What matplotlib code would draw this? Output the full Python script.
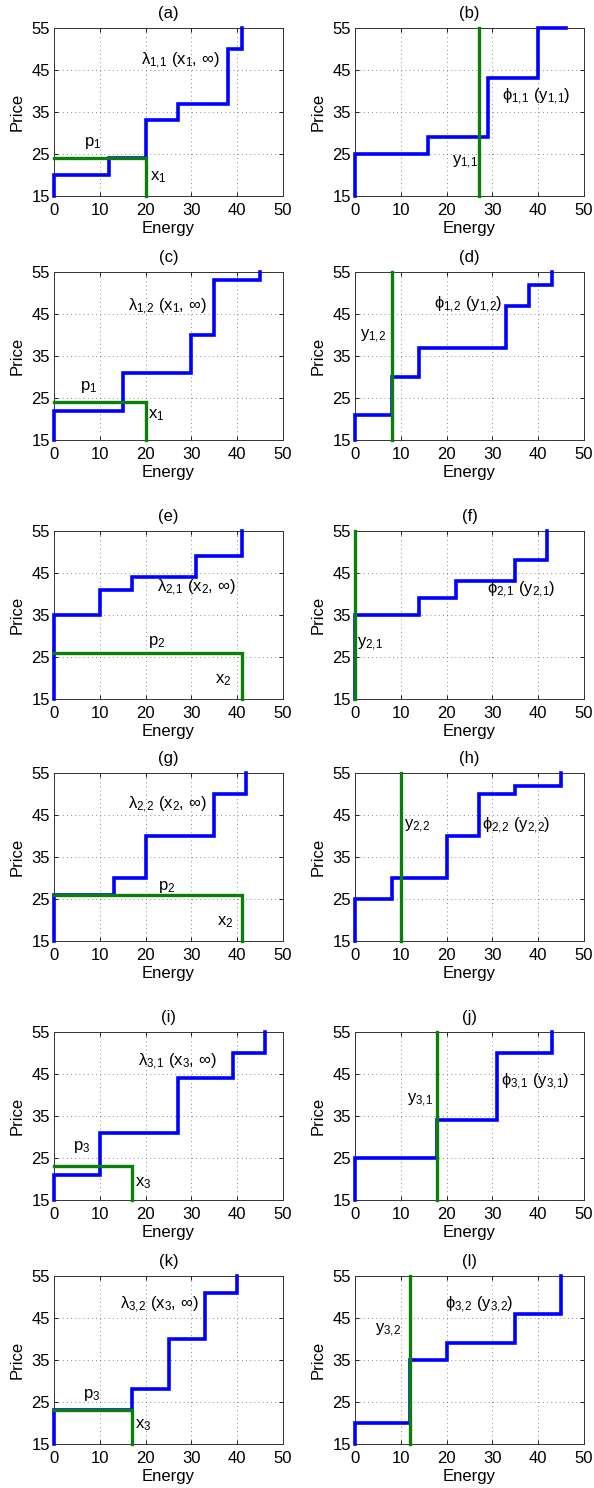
import matplotlib
matplotlib.use("Agg")
import matplotlib.pyplot as plt

plt.rcParams['font.family'] = ['Liberation Sans', 'DejaVu Sans']
plt.rcParams['mathtext.fontset'] = 'custom'
plt.rcParams['mathtext.rm'] = 'Liberation Sans'
plt.rcParams['mathtext.it'] = 'Liberation Sans'
plt.rcParams['mathtext.default'] = 'regular'

# ---------------- data ----------------
panel_titles = ['(a)', '(b)', '(c)', '(d)', '(e)', '(f)',
                '(g)', '(h)', '(i)', '(j)', '(k)', '(l)']

# blue step curves: energy breakpoints and price levels
curve_a_x = [0, 12, 20, 27, 38, 41]
curve_a_p = [20, 24, 33, 37, 50, 55]
curve_b_x = [0, 16, 29, 40, 46]
curve_b_p = [25, 29, 43, 55]
curve_c_x = [0, 15, 30, 35, 45]
curve_c_p = [22, 31, 40, 53, 55]
curve_d_x = [0, 8, 14, 33, 38, 43]
curve_d_p = [21, 30, 37, 47, 52, 55]
curve_e_x = [0, 10, 17, 31, 41]
curve_e_p = [35, 41, 44, 49, 55]
curve_f_x = [0, 14, 22, 35, 42]
curve_f_p = [35, 39, 43, 48, 55]
curve_g_x = [0, 13, 20, 35, 42]
curve_g_p = [26, 30, 40, 50, 55]
curve_h_x = [0, 8, 20, 27, 35, 45]
curve_h_p = [25, 30, 40, 50, 52, 55]
curve_i_x = [0, 10, 27, 39, 46]
curve_i_p = [21, 31, 44, 50, 55]
curve_j_x = [0, 18, 31, 43]
curve_j_p = [25, 34, 50, 55]
curve_k_x = [0, 17, 25, 33, 40]
curve_k_p = [23, 28, 40, 51, 55]
curve_l_x = [0, 12, 20, 35, 45]
curve_l_p = [20, 35, 39, 46, 55]

# green: bids (energy x, price p) for left panels; quantities y for right panels
bid_energy = [20, 20, 41, 41, 17, 17]      # a, c, e, g, i, k
bid_price = [24, 24, 26, 26, 23, 23]
offer_qty = [27, 8, 0, 10, 18, 12]         # b, d, f, h, j, l

x_ticks = [0, 10, 20, 30, 40, 50]
y_ticks = [15, 25, 35, 45, 55]

curves_x = [curve_a_x, curve_b_x, curve_c_x, curve_d_x, curve_e_x, curve_f_x,
            curve_g_x, curve_h_x, curve_i_x, curve_j_x, curve_k_x, curve_l_x]
curves_p = [curve_a_p, curve_b_p, curve_c_p, curve_d_p, curve_e_p, curve_f_p,
            curve_g_p, curve_h_p, curve_i_p, curve_j_p, curve_k_p, curve_l_p]

curve_labels = [r'λ$_{1,\!1}$ (x$_1$, ∞)', r'ϕ$_{1,\!1}$ (y$_{1,\!1}$)',
                r'λ$_{1,\!2}$ (x$_1$, ∞)', r'ϕ$_{1,\!2}$ (y$_{1,\!2}$)',
                r'λ$_{2,\!1}$ (x$_2$, ∞)', r'ϕ$_{2,\!1}$ (y$_{2,\!1}$)',
                r'λ$_{2,\!2}$ (x$_2$, ∞)', r'ϕ$_{2,\!2}$ (y$_{2,\!2}$)',
                r'λ$_{3,\!1}$ (x$_3$, ∞)', r'ϕ$_{3,\!1}$ (y$_{3,\!1}$)',
                r'λ$_{3,\!2}$ (x$_3$, ∞)', r'ϕ$_{3,\!2}$ (y$_{3,\!2}$)']
green_labels = [r'x$_1$', r'y$_{1,\!1}$', r'x$_1$', r'y$_{1,\!2}$',
                r'x$_2$', r'y$_{2,\!1}$', r'x$_2$', r'y$_{2,\!2}$',
                r'x$_3$', r'y$_{3,\!1}$', r'x$_3$', r'y$_{3,\!2}$']
price_labels = [r'p$_1$', r'p$_1$', r'p$_2$', r'p$_2$', r'p$_3$', r'p$_3$']

# ---------------- layout (annotation positions) ----------------
curve_label_pos = [(19, 47.2), (32.1, 38.6), (16.2, 46.8), (17.2, 47.1),
                   (22.4, 41.4), (28.8, 41.0), (16.2, 47.4), (27.7, 42.3),
                   (18.4, 47.9), (31.9, 43.2), (14.4, 48.1), (19.7, 48.1)]
green_label_pos = [(21, 19.6), (21.2, 22.9), (20.5, 21), (1.2, 39.6),
                   (35.2, 19.5), (0.4, 27.9), (35.5, 19.6), (10.8, 42.2),
                   (17.7, 19), (11.4, 38.8), (17.7, 19.5), (4.4, 42.1)]
price_label_pos = [(6.5, 27.6), (5.7, 27.7), (20.6, 28.6), (22.8, 27.9),
                   (4.1, 27.7), (6.4, 26.7)]

W, H = 594, 1488
FS = 12
fig = plt.figure(figsize=(W / 100, H / 100), dpi=100)
col_left = [54, 355]
row_top = [28, 272, 531, 773, 1032, 1276]
ax_w, ax_h = 229, 168

BLUE = '#0000ff'
GREEN = '#0b7f0b'
YMIN = 15

for i in range(12):
    r, c = divmod(i, 2)
    L = col_left[c]
    T = row_top[r]
    ax = fig.add_axes([L / W, 1 - (T + ax_h) / H, ax_w / W, ax_h / H])
    ax.set_xlim(0, 50)
    ax.set_ylim(15, 55)
    ax.set_xticks(x_ticks)
    ax.set_yticks(y_ticks)
    ax.tick_params(direction='in', length=3, labelsize=FS,
                   top=True, right=True, width=0.6)
    ax.tick_params(axis='x', pad=5)
    ax.tick_params(axis='y', pad=3)
    ax.grid(True, linestyle=(0, (1, 4)), color='#666666', linewidth=0.6)
    for s in ax.spines.values():
        s.set_linewidth(0.7)
        s.set_color('#333333')
    ax.set_xlabel('Energy', fontsize=FS, labelpad=2)
    ax.set_ylabel('Price', fontsize=FS, labelpad=5)
    ax.set_title(panel_titles[i], fontsize=FS, pad=7)

    bx = curves_x[i]
    bp = curves_p[i]
    px = [bx[0]]
    py = [YMIN]
    for k in range(len(bp)):
        px.append(bx[k]); py.append(bp[k])
        if k + 1 < len(bx):
            px.append(bx[k + 1]); py.append(bp[k])
    ax.plot(px, py, color=BLUE, linewidth=2.6, solid_joinstyle='miter',
            clip_on=False, zorder=3)

    if c == 0:
        e = bid_energy[r]
        p = bid_price[r]
        ax.plot([0, e, e], [p, p, YMIN], color=GREEN, linewidth=2.4,
                solid_joinstyle='miter', zorder=4, clip_on=False)
        ax.text(*price_label_pos[r], price_labels[r], fontsize=FS,
                ha='left', va='center')
    else:
        q = offer_qty[r]
        ax.plot([q, q], [YMIN, 55], color=GREEN, linewidth=2.4, zorder=4,
                clip_on=False)

    ax.text(*curve_label_pos[i], curve_labels[i], fontsize=FS,
            ha='left', va='center', zorder=5)
    ax.text(*green_label_pos[i], green_labels[i], fontsize=FS,
            ha='left', va='center', zorder=5)

fig.savefig('out.png', dpi=100)
